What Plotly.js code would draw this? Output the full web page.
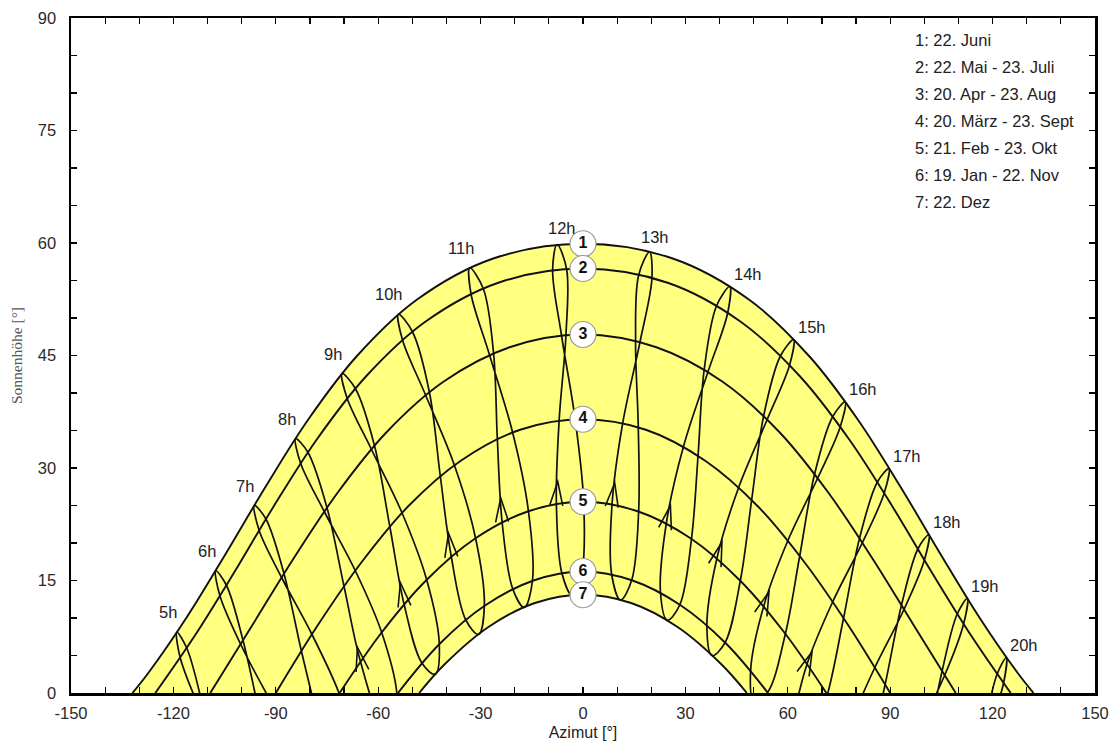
<!DOCTYPE html>
<html>
<head>
<meta charset="utf-8">
<script src="https://cdn.plot.ly/plotly-3.0.1.min.js"></script>
<style>html,body{margin:0;padding:0;background:#fff}#chart{width:1117px;height:746px}</style>
</head>
<body>
<div id="chart"></div>
<script>
// ---- Date curves (azimuth [deg], altitude [deg]) ----
const curve1Az  = [-132.0,-127.3,-115.8,-104.5,-93.0,-80.6,-66.3,-48.8,-26.5,0,26.5,48.8,66.3,80.6,93.0,104.5,115.8,127.3,132.0];
const curve1Alt = [0,2.7,10.3,18.7,27.5,36.4,44.9,52.4,57.9,59.9,57.9,52.4,44.9,36.4,27.5,18.7,10.3,2.7,0];
const curve2Az  = [-125.3,-113.8,-102.3,-90.6,-78.0,-63.6,-46.2,-24.8,0,24.8,46.2,63.6,78.0,90.6,102.3,113.8,125.3];
const curve2Alt = [0,7.6,16.0,24.9,33.8,42.2,49.5,54.7,56.6,54.7,49.5,42.2,33.8,24.9,16.0,7.6,0];
const curve3Az  = [-109.2,-96.8,-84.7,-71.9,-57.5,-40.9,-21.5,0,21.5,40.9,57.5,71.9,84.7,96.8,109.2];
const curve3Alt = [0,9.1,18.0,26.7,34.8,41.5,46.1,47.8,46.1,41.5,34.8,26.7,18.0,9.1,0];
const curve4Az  = [-90,-77.9,-65.1,-51.2,-35.7,-18.4,0,18.4,35.7,51.2,65.1,77.9,90];
const curve4Alt = [0,8.9,17.3,24.9,31.0,35.1,36.5,35.1,31.0,24.9,17.3,8.9,0];
const curve5Az  = [-71.3,-59.1,-46.0,-31.6,-16.2,0,16.2,31.6,46.0,59.1,71.3];
const curve5Alt = [0,8.0,15.0,20.6,24.2,25.5,24.2,20.6,15.0,8.0,0];
const curve6Az  = [-54.2,-41.9,-28.6,-14.5,0,14.5,28.6,41.9,54.2];
const curve6Alt = [0,6.6,11.7,15.0,16.2,15.0,11.7,6.6,0];
const curve7Az  = [-48.0,-40.6,-27.7,-14.1,0,14.1,27.7,40.6,48.0];
const curve7Alt = [0,3.8,8.8,12.0,13.1,12.0,8.8,3.8,0];

const curveNumbers = ['1','2','3','4','5','6','7'];
const legendLines = ['1: 22. Juni','2: 22. Mai - 23. Juli','3: 20. Apr - 23. Aug','4: 20. März - 23. Sept','5: 21. Feb - 23. Okt','6: 19. Jan - 22. Nov','7: 22. Dez'];

// ---- Axis ticks ----
const xTickVals = [-150,-120,-90,-60,-30,0,30,60,90,120,150];
const yTickVals = [0,15,30,45,60,75,90];

// ---- Hour lines (analemmas), points through the year ----
const hourLabels = ['5h','6h','7h','8h','9h','10h','11h','12h','13h','14h','15h','16h','17h','18h','19h','20h'];
const hourValues = [5,6,7,8,9,10,11,12,13,14,15,16,17,18,19,20];
const h05Az = [-111.5,-116.1,-119.0,-118.0,-112.3];
const h05Alt = [-1.6,6.0,8.1,4.7,-2.1];
const h06Az = [-94.6,-99.6,-104.5,-107.6,-106.4,-100.3,-91.5];
const h06Alt = [-3.3,7.0,14.4,16.3,13.0,6.5,-1.1];
const h07Az = [-77.3,-82.5,-87.6,-92.9,-96.3,-94.9,-88.3,-79.4,-71.4,-66.3];
const h07Alt = [-4.2,5.6,15.9,23.2,25.0,21.7,15.4,7.8,-0.1,-7.9];
const h08Az = [-55.3,-59.4,-65.2,-70.0,-75.0,-80.6,-84.2,-82.7,-75.8,-66.7,-59.0,-54.5,-55.3];
const h08Alt = [-4.3,-3.2,4.2,14.2,24.7,32.1,33.9,30.6,24.2,16.3,8.1,-0.2,-4.3];
const h09Az = [-43.3,-47.2,-52.4,-56.6,-61.1,-66.7,-70.6,-69.1,-62.0,-53.0,-45.8,-42.1,-43.3];
const h09Alt = [2.5,4.0,11.8,22.2,33.0,40.6,42.6,39.3,32.5,24.0,15.1,6.5,2.5];
const h10Az = [-30.6,-34.4,-38.6,-41.8,-45.0,-50.0,-54.1,-52.9,-46.1,-37.7,-31.5,-28.9,-30.6];
const h10Alt = [7.8,9.8,18.2,28.9,40.1,48.2,50.5,47.1,39.7,30.4,20.7,11.7,7.8];
const h11Az = [-17.2,-20.6,-23.7,-25.1,-26.2,-29.2,-33.2,-32.8,-27.4,-20.6,-16.0,-14.8,-17.2];
const h11Alt = [11.4,13.9,22.8,33.9,45.3,53.9,56.7,53.2,45.1,34.7,24.3,15.0,11.4];
const h12Az = [-3.1,-6.2,-7.8,-7.0,-5.0,-4.8,-7.6,-8.9,-6.3,-2.3,0.2,-0.3,-3.1];
const h12Alt = [13.0,16.0,25.2,36.3,47.7,56.5,59.8,56.4,47.7,36.5,25.5,16.2,13.0];
const h13Az = [11.0,8.4,8.5,11.6,16.7,20.2,19.5,16.3,15.4,16.2,16.3,14.3,11.0];
const h13Alt = [12.4,15.8,25.1,35.9,46.8,55.3,58.8,55.7,46.9,35.4,24.2,15.1,12.4];
const h14Az = [24.7,22.7,24.4,29.4,36.6,42.4,43.0,39.1,35.5,33.7,31.8,28.4,24.7];
const h14Alt = [9.7,13.4,22.6,32.8,42.8,50.7,54.2,51.6,43.1,31.6,20.6,11.8,9.7];
const h15Az = [37.8,36.3,39.2,45.6,53.9,60.5,61.7,57.8,52.9,49.4,46.1,41.6,37.8];
const h15Alt = [5.0,9.0,17.9,27.4,36.4,43.7,47.1,44.9,36.9,25.7,15.0,6.7,5.0];
const h16Az = [50.1,49.1,52.9,60.0,68.7,75.3,76.8,73.1,67.8,63.5,59.3,54.1,50.1];
const h16Alt = [-1.2,2.9,11.5,20.3,28.6,35.4,38.8,36.8,29.1,18.3,7.9,0.1,-1.2];
const h17Az = [61.1,65.6,73.1,81.8,88.2,89.6,86.2,81.0,76.3,71.6,65.9];
const h17Alt = [-4.4,3.8,12.1,20.0,26.6,29.9,28.1,20.6,9.9,-0.2,-7.6];
const h18Az = [77.7,85.4,94.0,100.0,101.3,98.1,93.3,88.5,83.5];
const h18Alt = [-4.6,3.3,11.1,17.7,21.1,19.2,11.7,1.1,-8.9];
const h19Az = [97.5,105.9,111.5,112.6,109.6,105.2,100.6];
const h19Alt = [-5.6,2.3,9.2,12.6,10.5,2.9,-7.8];
const h20Az = [118.1,123.2,124.0,121.3,117.3];
const h20Alt = [-5.9,1.3,4.7,2.5,-5.5];

// ---- Direction arrows on the spring branches ----
const arrowTipAz   = [-66.1,-53.5,-39.4,-24.1,-7.4,9.3,25.6,40.7,54.5,67.1];
const arrowTipAlt  = [6.1,14.7,21.3,26.0,28.2,28.0,25.0,20.1,13.5,5.5];
const arrowTailAz  = [-65.2,-52.4,-38.6,-23.7,-7.8,8.5,24.4,39.2,52.9,65.6];
const arrowTailAlt = [4.2,11.8,18.2,22.8,25.2,25.1,22.6,17.9,11.5,3.8];

// ---------------------------------------------------------------
const curvesAz  = [curve1Az,curve2Az,curve3Az,curve4Az,curve5Az,curve6Az,curve7Az];
const curvesAlt = [curve1Alt,curve2Alt,curve3Alt,curve4Alt,curve5Alt,curve6Alt,curve7Alt];
const hoursAz  = [h05Az,h06Az,h07Az,h08Az,h09Az,h10Az,h11Az,h12Az,h13Az,h14Az,h15Az,h16Az,h17Az,h18Az,h19Az,h20Az];
const hoursAlt = [h05Alt,h06Alt,h07Alt,h08Alt,h09Alt,h10Alt,h11Alt,h12Alt,h13Alt,h14Alt,h15Alt,h16Alt,h17Alt,h18Alt,h19Alt,h20Alt];

const FONT = 'Liberation Sans, Arial, Helvetica, sans-serif';
const INK = '#111';
const traces = [];

// yellow band: under June curve, white under December curve
traces.push({x: curve1Az, y: curve1Alt, mode: 'lines', fill: 'tozeroy', fillcolor: '#ffff80',
  line: {shape: 'spline', width: 0.5, color: 'rgba(0,0,0,0)'}, hoverinfo: 'skip', showlegend: false});
traces.push({x: curve7Az, y: curve7Alt, mode: 'lines', fill: 'tozeroy', fillcolor: '#ffffff',
  line: {shape: 'spline', width: 0.5, color: 'rgba(0,0,0,0)'}, hoverinfo: 'skip', showlegend: false});

// hour lines
hoursAz.forEach((az, i) => {
  traces.push({x: az, y: hoursAlt[i], mode: 'lines', line: {shape: 'spline', smoothing: 1, color: INK, width: 1.7},
    hoverinfo: 'skip', showlegend: false});
});
// date curves
curvesAz.forEach((az, i) => {
  traces.push({x: az, y: curvesAlt[i], mode: 'lines', line: {shape: 'spline', smoothing: 1, color: INK, width: 1.9},
    hoverinfo: 'skip', showlegend: false});
});

// numbered circles at the top of each date curve
const numX = [], numY = [];
curvesAz.forEach((az, i) => {
  const alts = curvesAlt[i];
  let k = 0; alts.forEach((v, j) => { if (v > alts[k]) k = j; });
  numX.push(az[k]); numY.push(alts[k]);
});
traces.push({x: numX, y: numY, mode: 'markers+text', text: curveNumbers.map(t => '<b>' + t + '</b>'),
  textposition: 'middle center', textfont: {family: FONT, size: 16, color: '#111'},
  marker: {size: 26, color: '#ffffff', line: {color: '#9a9a9a', width: 1.2}},
  cliponaxis: false, hoverinfo: 'skip', showlegend: false});

// hour labels at the June point of each hour line
const annotations = [];
hoursAz.forEach((az, i) => {
  const alts = hoursAlt[i];
  let k = 0; alts.forEach((v, j) => { if (v > alts[k]) k = j; });
  const h = hourValues[i];
  let xs, ys;
  if (h < 12) { xs = -9; ys = 20; } else if (h === 12) { xs = 5; ys = 17; } else if (h === 13) { xs = 5; ys = 15; } else { xs = 18; ys = 13; }
  annotations.push({x: az[k], y: alts[k], xref: 'x', yref: 'y', text: hourLabels[i], showarrow: false,
    xshift: xs, yshift: ys, font: {family: FONT, size: 16.5, color: '#222'}});
});
// legend text block
legendLines.forEach((t, i) => {
  annotations.push({x: 0.822, y: 0.967 - i * 0.04, xref: 'paper', yref: 'paper', xanchor: 'left', yanchor: 'middle',
    text: t, showarrow: false, font: {family: FONT, size: 16.5, color: '#222'}});
});

// chevron arrow heads
const pxPerAz = 1024 / 300, pxPerAlt = 675 / 90;
const L = 24, W = 6.5;
const shapes = arrowTipAz.map((ax, i) => {
  const dx = (ax - arrowTailAz[i]) * pxPerAz, dy = (arrowTipAlt[i] - arrowTailAlt[i]) * pxPerAlt;
  const len = Math.hypot(dx, dy), ux = dx / len, uy = dy / len, qx = -uy, qy = ux;
  const a = [(-L * ux + W * qx).toFixed(2), (-L * uy + W * qy).toFixed(2)];
  const b = [(-L * ux - W * qx).toFixed(2), (-L * uy - W * qy).toFixed(2)];
  return {type: 'path', xref: 'x', yref: 'y', xsizemode: 'pixel', ysizemode: 'pixel',
    xanchor: ax, yanchor: arrowTipAlt[i], path: `M${a[0]},${a[1]} L0,0 L${b[0]},${b[1]}`,
    line: {color: INK, width: 1.6}};
});

const axisCommon = {
  showgrid: false, zeroline: false, showline: true, linecolor: '#000', linewidth: 2.5, mirror: 'ticks',
  ticks: 'inside', ticklen: 6, tickwidth: 1.2, tickcolor: '#000', tickmode: 'array',
  tickfont: {family: FONT, size: 16.5, color: '#2a2a2a'}
};
const layout = {
  width: 1117, height: 746,
  margin: {l: 71, r: 22, t: 18, b: 53},
  paper_bgcolor: '#fff', plot_bgcolor: '#fff',
  xaxis: Object.assign({}, axisCommon, {
    range: [-150, 150], tickvals: xTickVals, ticktext: xTickVals.map(v => String(v)), ticklabelstandoff: 4,
    minor: {dtick: 10, tick0: 0, ticks: 'inside', ticklen: 6, tickwidth: 1.2, tickcolor: '#000', showgrid: false},
    title: {text: 'Azimut [°]', standoff: 6, font: {family: FONT, size: 16, color: '#222'}}
  }),
  yaxis: Object.assign({}, axisCommon, {
    range: [0, 90], tickvals: yTickVals, ticktext: yTickVals.map(v => String(v)), ticklabelstandoff: 9,
    minor: {dtick: 5, tick0: 0, ticks: 'inside', ticklen: 6, tickwidth: 1.2, tickcolor: '#000', showgrid: false},
    title: {text: 'Sonnenhöhe [°]', standoff: 12, font: {family: 'Liberation Serif, Times New Roman, serif', size: 15.5, color: '#555'}}
  }),
  annotations: annotations,
  shapes: shapes,
  showlegend: false
};
Plotly.newPlot('chart', traces, layout, {displayModeBar: false, staticPlot: true});
</script>
</body>
</html>
